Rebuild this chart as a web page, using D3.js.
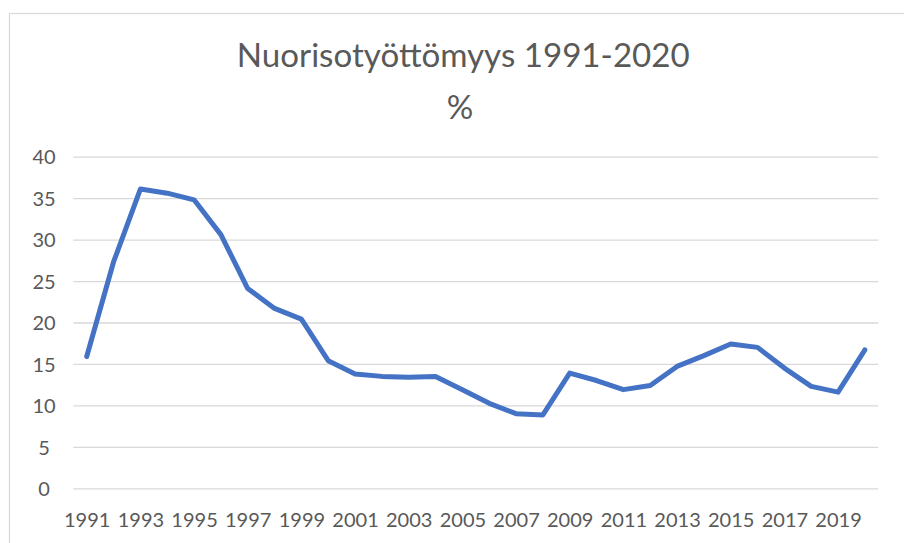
<!DOCTYPE html>
<html>
<head>
<meta charset="utf-8">
<script src="https://cdn.jsdelivr.net/npm/d3@7"></script>
<style>
  html, body { margin: 0; padding: 0; background: #fff; }
  svg { display: block; }
  text { font-family: Lato, "Open Sans", sans-serif; fill: #595959; }
</style>
</head>
<body>
<svg id="chart" width="904" height="543"></svg>
<script>
const titleLines = ["Nuorisotyöttömyys 1991-2020", "%"];
const years = [1991,1992,1993,1994,1995,1996,1997,1998,1999,2000,
               2001,2002,2003,2004,2005,2006,2007,2008,2009,2010,
               2011,2012,2013,2014,2015,2016,2017,2018,2019,2020];
const unemployment = [15.9,27.3,36.1,35.6,34.8,30.6,24.1,21.7,20.4,15.4,
                      13.8,13.5,13.4,13.5,11.9,10.25,9.0,8.85,13.9,13.0,
                      11.9,12.4,14.7,16.0,17.4,17.0,14.5,12.3,11.6,16.7];
const yTicks = [0,5,10,15,20,25,30,35,40];
const xLabelYears = years.filter((v, i) => i % 2 === 0);

(function () {
const svg = d3.select("#chart");

// chart area border
svg.append("rect")
  .attr("x", 9.5).attr("y", 13.5)
  .attr("width", 920).attr("height", 560)
  .attr("fill", "#fff")
  .attr("stroke", "#d9d9d9").attr("stroke-width", 1.2);

const pLeft = 73.3, pRight = 878.3, pTop = 156.7, pBottom = 488.3;

const x = d3.scalePoint().domain(years).range([pLeft, pRight]).padding(0.5);
const y = d3.scaleLinear().domain([0, 40]).range([pBottom, pTop]);

// gridlines + y labels
const yAxis = d3.axisLeft(y).tickValues(yTicks).tickSize(-(pRight - pLeft)).tickPadding(0);
const gy = svg.append("g").attr("transform", `translate(${pLeft},0)`).call(yAxis);
gy.select(".domain").remove();
gy.selectAll(".tick line").attr("stroke", "#d9d9d9").attr("stroke-width", 1.3);
gy.selectAll(".tick text")
  .attr("x", 44 - pLeft)
  .attr("text-anchor", "middle")
  .attr("dy", "0.36em")
  .attr("fill", "#595959")
  .style("font-size", "20px");

// x axis labels
const xAxis = d3.axisBottom(x).tickValues(xLabelYears).tickSize(0).tickPadding(0);
const gx = svg.append("g").attr("transform", `translate(0,${pBottom})`).call(xAxis);
gx.select(".domain").remove();
gx.selectAll(".tick text")
  .attr("y", 38.4)
  .attr("dy", 0)
  .attr("fill", "#595959")
  .style("font-size", "20px");

// line
const line = d3.line()
  .x((d, i) => x(years[i]))
  .y(d => y(d));
svg.append("path")
  .datum(unemployment)
  .attr("fill", "none")
  .attr("stroke", "#4472c4")
  .attr("stroke-width", 5)
  .attr("stroke-linejoin", "round")
  .attr("stroke-linecap", "round")
  .attr("d", line);

// title
const t1 = svg.append("text")
  .attr("x", 463.3).attr("y", 66.7)
  .attr("text-anchor", "middle")
  .style("font-size", "30px")
  .text(titleLines[0]);
const w = t1.node().getComputedTextLength();
const fs = (30 * 453 / w).toFixed(2) + "px";
t1.style("font-size", fs);
svg.append("text")
  .attr("x", 460).attr("y", 119)
  .attr("text-anchor", "middle")
  .style("font-size", fs)
  .text(titleLines[1]);
})();
</script>
</body>
</html>
